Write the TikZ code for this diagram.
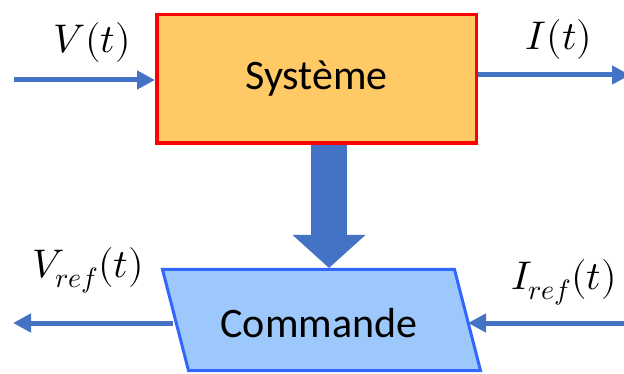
\documentclass[tikz,border=0pt]{standalone}
\usepackage{fontspec}
\usepackage{unicode-math}
\setmainfont{Carlito}
\setmathfont{Latin Modern Math}
\usetikzlibrary{arrows.meta}
\definecolor{sysfill}{HTML}{FFCA66}
\definecolor{sysdraw}{HTML}{FF0000}
\definecolor{arrblue}{HTML}{4472C4}
\definecolor{cmdfill}{HTML}{9DC8FC}
\definecolor{cmddraw}{HTML}{3366FF}
\begin{document}
\begin{tikzpicture}[x=1pt,y=-1pt,
  sysbox/.style={draw=sysdraw, fill=sysfill, line width=3.5pt, minimum width=319.5pt, minimum height=128.5pt, inner sep=0pt, font=\fontsize{42}{46}\selectfont},
  cmdbox/.style={draw=cmddraw, fill=cmdfill, line width=3pt, line join=miter},
  lbl/.style={inner sep=0pt, font=\fontsize{40}{44}\selectfont},
  sig/.style={draw=arrblue, line width=5pt, -{Triangle[length=18pt,width=18pt]}},
  bigarr/.style={draw=arrblue, line width=36pt, -{Triangle[length=33pt,width=71pt]}}
]
\useasboundingbox (0,0) rectangle (624,374);
% system
\node[sysbox] (sys) at (316.5,79) {Système};
% commande parallelogram
\coordinate (p1) at (162.5,269.5);
\coordinate (p2) at (454.5,269.5);
\coordinate (p3) at (480.5,370.5);
\coordinate (p4) at (188.5,370.5);
\filldraw[cmdbox] (p1) -- (p2) -- (p3) -- (p4) -- cycle;
\node[inner sep=0pt, font=\fontsize{42}{46}\selectfont] (cmd) at (319,323) {Commande};
% edge points of parallelogram
\coordinate (cl) at (173,323);
\coordinate (cr) at (468,323);
\coordinate (atip) at (329,268);
% free ends
\coordinate (vin) at (14,80);
\coordinate (iout) at (630,75);
\coordinate (vout) at (13,323);
\coordinate (iin) at (624,323);
% connectors
\draw[sig] (vin) -- (vin -| sys.west);
\draw[sig] (iout -| sys.east) -- (iout);
\draw[sig] (cl) -- (vout);
\draw[sig] (iin) -- (cr);
\draw[bigarr] (atip |- sys.south) -- (atip);
% labels
\node[lbl] (vlab) at (92,43) {$V(t)$};
\node[lbl] (ilab) at (559,40) {$I(t)$};
\node[lbl] (vref) at (88,270) {$V_{ref}(t)$};
\node[lbl] (iref) at (564,282) {$I_{ref}(t)$};
\end{tikzpicture}
\end{document}
